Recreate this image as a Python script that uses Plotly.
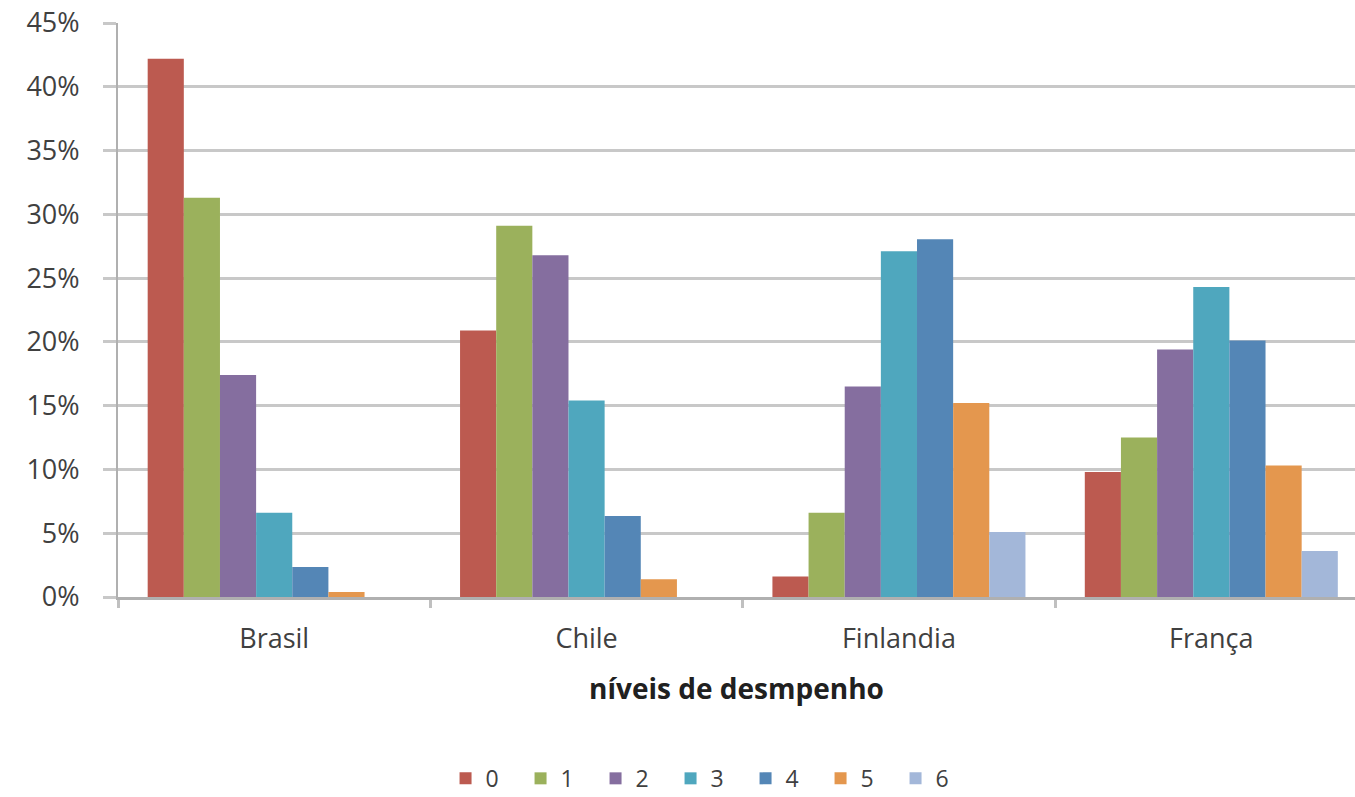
import plotly.graph_objects as go

countries = ["Brasil", "Chile", "Finlandia", "França"]
levels = ["0", "1", "2", "3", "4", "5", "6"]
level0 = [42.2, 20.9, 1.6, 9.8]
level1 = [31.3, 29.1, 6.6, 12.5]
level2 = [17.4, 26.8, 16.5, 19.4]
level3 = [6.6, 15.4, 27.1, 24.3]
level4 = [2.35, 6.35, 28.05, 20.1]
level5 = [0.4, 1.4, 15.2, 10.3]
level6 = [0.0, 0.0, 5.1, 3.6]
series = [level0, level1, level2, level3, level4, level5, level6]
colors = ["#BC5A50", "#9BB15C", "#856E9F", "#4FA7BE", "#5486B6", "#E4974E", "#A3B7D9"]
ytick_vals = [0, 5, 10, 15, 20, 25, 30, 35, 40, 45]
ytick_text = ["0%", "5%", "10%", "15%", "20%", "25%", "30%", "35%", "40%", "45%"]

fig = go.Figure()
for name, vals, col in zip(levels, series, colors):
    fig.add_trace(go.Bar(x=countries, y=vals, name=name, marker=dict(color=col, line=dict(width=0))))

font = "Open Sans, Liberation Sans, sans-serif"
fig.update_layout(
    width=1355, height=797,
    margin=dict(l=118, r=0, t=23, b=200, autoexpand=False),
    paper_bgcolor="white", plot_bgcolor="white",
    barmode="group", bargap=0.19, bargroupgap=0,
    font=dict(family=font, size=20, color="#404040"),
    legend=dict(orientation="h", x=0.477, xanchor="center", y=-0.316, yanchor="middle",
                entrywidth=30, entrywidthmode="pixels", itemwidth=30,
                font=dict(size=23, color="#404040")),
    showlegend=True,
)
fig.update_yaxes(range=[0, 45], tickmode="array", tickvals=ytick_vals, ticktext=ytick_text,
                 showgrid=True, gridcolor="#C8C8C8", gridwidth=3,
                 ticks="outside", ticklen=13, tickcolor="#C8C8C8", tickwidth=3,
                 showline=True, linecolor="#B0B0B0", linewidth=2, zeroline=False, automargin=False,
                 tickfont=dict(size=27, color="#404040"), ticklabelstandoff=18)
fig.update_xaxes(range=[-0.5, 3.46], showline=True, linecolor="#B0B0B0", linewidth=3,
                 ticks="outside", tickson="boundaries", ticklen=8, tickcolor="#C0C0C0", tickwidth=3,
                 automargin=False,
                 tickfont=dict(size=27, color="#404040"), ticklabelstandoff=16,
                 title=dict(text="<b>níveis de desmpenho</b>", font=dict(size=28, color="#202020"), standoff=24))

fig.write_html("out.html")
